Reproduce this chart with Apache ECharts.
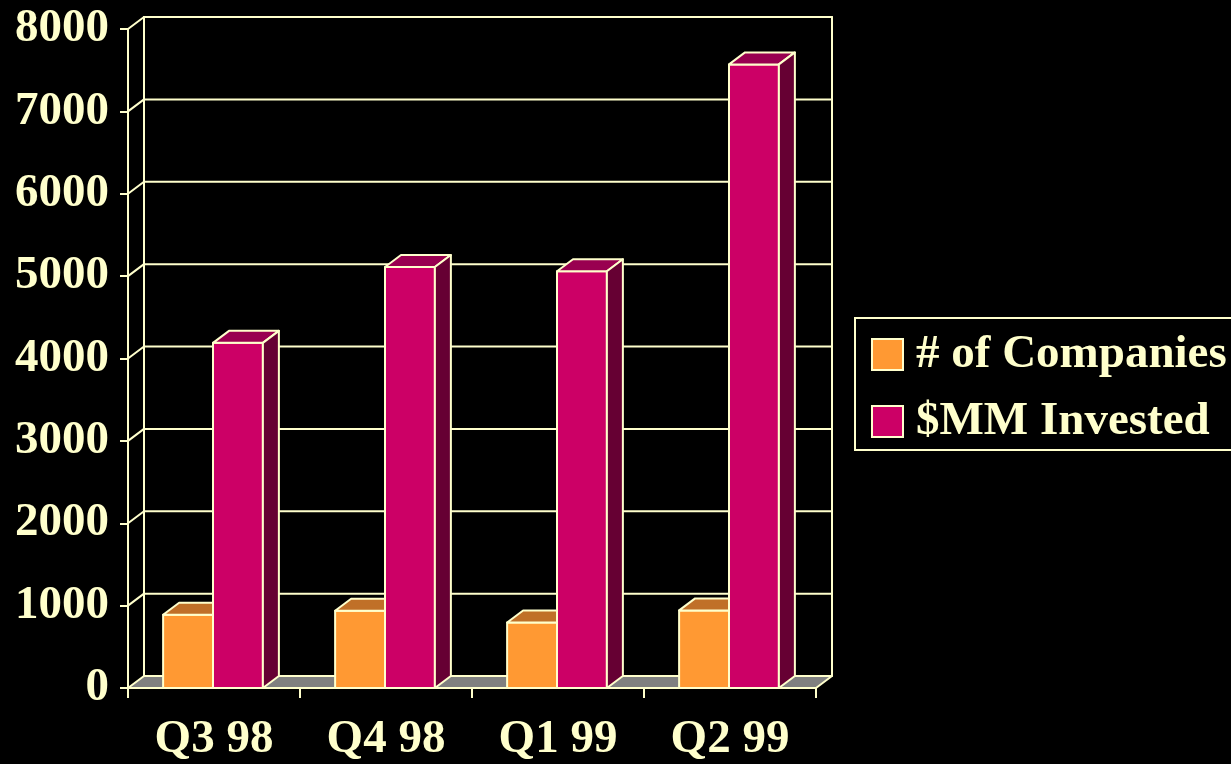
<!DOCTYPE html>
<html>
<head>
<meta charset="utf-8">
<script src="https://cdn.jsdelivr.net/npm/echarts@6/dist/echarts.min.js"></script>
<style>
  html, body { margin: 0; padding: 0; background: #000; }
  #chart { width: 1231px; height: 764px; }
</style>
</head>
<body>
<div id="chart"></div>
<script>
// Quarterly venture investment: number of companies and dollars invested
const categories = ['Q3 98', 'Q4 98', 'Q1 99', 'Q2 99'];
const companies = [890, 938, 796, 942];
const invested = [4190, 5110, 5060, 7570];
const yTicks = [0, 1000, 2000, 3000, 4000, 5000, 6000, 7000, 8000];

const CREAM = '#FFFFCC';
const FONT = 'Liberation Serif, Times New Roman, serif';
// Oblique depth offset of the pseudo-3D frame
const DX = 16, DY = -12;

const lineStyle = { stroke: CREAM, lineWidth: 2, lineJoin: 'round', lineCap: 'round' };

// Back wall gridlines, their links to the front axis, and the grey floor
function renderWall(params, api) {
  const cs = params.coordSys;
  const xl = cs.x, xr = cs.x + cs.width;
  const v = api.value(1);
  const y = api.coord([0, v])[1];
  const children = [];
  if (v === 0) {
    const yTop = api.coord([0, yTicks[yTicks.length - 1]])[1] + DY;
    children.push({
      type: 'polygon',
      shape: { points: [[xl, y], [xr, y], [xr + DX, y + DY], [xl + DX, y + DY]] },
      style: Object.assign({}, lineStyle, { fill: '#808080' })
    });
    children.push({ type: 'line', shape: { x1: xl + DX, y1: y + DY, x2: xl + DX, y2: yTop }, style: lineStyle });
    children.push({ type: 'line', shape: { x1: xr + DX, y1: y + DY, x2: xr + DX, y2: yTop }, style: lineStyle });
  } else {
    children.push({ type: 'line', shape: { x1: xl, y1: y, x2: xl + DX, y2: y + DY }, style: lineStyle });
    children.push({ type: 'line', shape: { x1: xl + DX, y1: y + DY, x2: xr + DX, y2: y + DY }, style: lineStyle });
  }
  return { type: 'group', children: children };
}

// A column drawn as a box: front face, top face and right side face
function makeBarSeries(name, values, slot, colors) {
  return {
    type: 'custom',
    name: name,
    data: values.map(function (v, i) { return [i, v]; }),
    itemStyle: { color: colors.front },
    z: 3 + slot,
    renderItem: function (params, api) {
      const i = api.value(0), v = api.value(1);
      const top = api.coord([i, v]);
      const base = api.coord([i, 0]);
      const band = api.size([1, 0])[0];
      const w = band * 0.29;
      const x0 = top[0] - 1 + (slot === 0 ? -w : 0);
      const x1 = x0 + w;
      const yt = top[1], yb = base[1];
      return {
        type: 'group',
        children: [
          {
            type: 'polygon',
            shape: { points: [[x0, yb], [x1, yb], [x1, yt], [x0, yt]] },
            style: Object.assign({}, lineStyle, { fill: colors.front })
          },
          {
            type: 'polygon',
            shape: { points: [[x0, yt], [x1, yt], [x1 + DX, yt + DY], [x0 + DX, yt + DY]] },
            style: Object.assign({}, lineStyle, { fill: colors.top })
          },
          {
            type: 'polygon',
            shape: { points: [[x1, yb], [x1 + DX, yb + DY], [x1 + DX, yt + DY], [x1, yt]] },
            style: Object.assign({}, lineStyle, { fill: colors.side })
          }
        ]
      };
    }
  };
}

const chart = echarts.init(document.getElementById('chart'));
chart.setOption({
  backgroundColor: '#000000',
  animation: false,
  grid: { left: 128, right: 415, top: 29, bottom: 76, containLabel: false },
  // Legend frame runs past the right edge of the canvas
  graphic: [{
    type: 'rect',
    silent: true,
    shape: { x: 855, y: 318, width: 420, height: 132 },
    style: { fill: 'none', stroke: CREAM, lineWidth: 2 }
  }],
  legend: {
    orient: 'vertical',
    left: 855,
    top: 318,
    icon: 'rect',
    itemWidth: 31,
    itemHeight: 31,
    itemGap: 20,
    padding: [13, 10, 6, 16],
    data: [
      { name: '# of Companies', itemStyle: { color: '#FF9933', borderColor: CREAM, borderWidth: 2 } },
      { name: '$MM Invested', itemStyle: { color: '#CC0066', borderColor: CREAM, borderWidth: 2 } }
    ],
    textStyle: {
      color: CREAM, fontSize: 47, fontWeight: 'bold', fontFamily: FONT,
      padding: [0, 0, 0, 8]
    }
  },
  xAxis: {
    type: 'category',
    data: categories,
    axisLine: { show: true, lineStyle: { color: CREAM, width: 2 } },
    axisTick: { show: true, length: 10, lineStyle: { color: CREAM, width: 2 } },
    axisLabel: {
      color: CREAM, fontSize: 47, fontWeight: 'bold', fontFamily: FONT, margin: 28
    },
    splitLine: { show: false }
  },
  yAxis: {
    type: 'value',
    min: 0,
    max: 8000,
    interval: 1000,
    axisLine: { show: true, lineStyle: { color: CREAM, width: 2 } },
    axisTick: { show: true, length: 8, lineStyle: { color: CREAM, width: 2 } },
    axisLabel: {
      color: CREAM, fontSize: 47, fontWeight: 'bold', fontFamily: FONT, margin: 19,
      formatter: function (v) { return String(v); }
    },
    splitLine: { show: false }
  },
  series: [
    {
      type: 'custom',
      name: 'wall',
      z: 1,
      silent: true,
      data: yTicks.map(function (v) { return [0, v]; }),
      renderItem: renderWall
    },
    makeBarSeries('# of Companies', companies, 0, { front: '#FF9933', top: '#C07028', side: '#A0561A' }),
    makeBarSeries('$MM Invested', invested, 1, { front: '#CC0066', top: '#990050', side: '#660033' })
  ]
});
</script>
</body>
</html>
